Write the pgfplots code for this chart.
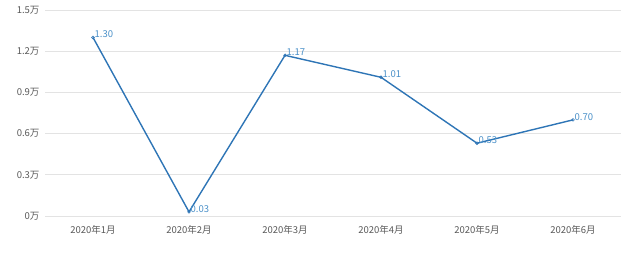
\documentclass[border=0pt]{standalone}
\usepackage{pgfplots}
\pgfplotsset{compat=1.18}
\usetikzlibrary{calc}
\usepackage{fontspec}
\setmainfont{Noto Sans CJK SC}
\definecolor{lineblue}{HTML}{2E75B6}
\definecolor{labblue}{HTML}{4A90C8}
\definecolor{gridgray}{HTML}{E3E3E3}
\definecolor{ticktext}{HTML}{595959}
\begin{document}
\begin{tikzpicture}
\begin{axis}[
  scale only axis,
  width=576pt, height=206pt,
  xmin=-0.5, xmax=5.5,
  ymin=0, ymax=1.5,
  axis line style={draw=none},
  xtick={0,1,2,3,4,5},
  xticklabels={2020年1月,2020年2月,2020年3月,2020年4月,2020年5月,2020年6月},
  ytick={0,0.3,0.6,0.9,1.2,1.5},
  yticklabels={0万,0.3万,0.6万,0.9万,1.2万,1.5万},
  major tick length=0pt,
  ymajorgrids,
  grid style={gridgray, line width=0.9pt},
  tick label style={font=\fontsize{9.5}{10}\selectfont, text=ticktext},
  yticklabel style={xshift=-2pt},
  xticklabel style={yshift=-6pt},
  clip=false,
  nodes near coords,
  point meta=explicit,
  every node near coord/.style={font=\fontsize{9.5}{10}\selectfont, text=labblue, anchor=west, xshift=-2pt, yshift=3pt, /pgf/number format/.cd, fixed, fixed zerofill, precision=2, assume math mode=true},
]
\addplot[lineblue, line width=1.4pt, mark=o, mark size=1.4pt, mark options={lineblue, line width=0.6pt, fill=white}]
  coordinates {(0,1.30)[1.30] (1,0.03)[0.03] (2,1.17)[1.17] (3,1.01)[1.01] (4,0.53)[0.53] (5,0.70)[0.70]};
\path ($(rel axis cs:0,0)+(-45pt,-41pt)$) rectangle ($(rel axis cs:1,1)+(19pt,10pt)$);
\end{axis}
\end{tikzpicture}
\end{document}
